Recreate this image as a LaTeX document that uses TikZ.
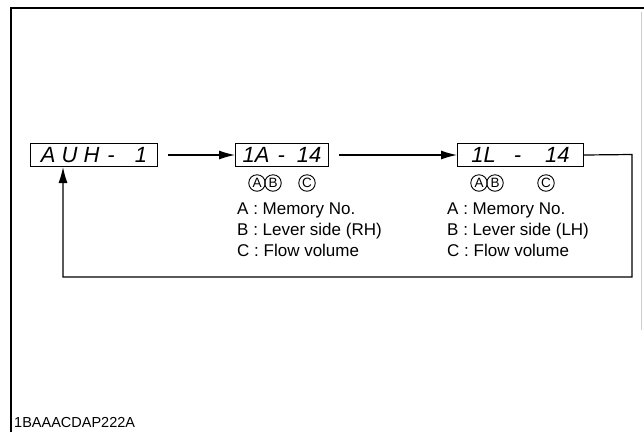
\documentclass[tikz,border=0pt]{standalone}
\usepackage{fontspec}
\setmainfont{Liberation Sans}
\usetikzlibrary{arrows.meta}
\tikzset{
  disp/.style={draw, line width=1pt, minimum height=23pt, inner sep=0pt, anchor=north west},
  seg/.style={font=\fontsize{22}{22}\selectfont\itshape, inner sep=0pt},
  conn/.style={line width=1.2pt},
  arr/.style={conn, -{Latex[length=16pt,width=9pt]}},
  lbl/.style={font=\fontsize{17}{21}\selectfont, align=left, anchor=north west, inner sep=0pt},
  circ/.style={draw, circle, line width=0.9pt, minimum size=16.5pt, inner sep=0pt, font=\fontsize{13.5}{13.5}\selectfont}
}
\begin{document}
\begin{tikzpicture}[x=1pt,y=-1pt]
\useasboundingbox (0,0) rectangle (644,432);
% frame
\draw[line width=1.5pt] (11,432) -- (11,8) -- (644,8);
\draw[line width=0.4pt, black!20] (641,12) -- (641,330);
% displays
\node[disp, minimum width=127pt] (b1) at (30,143) {};
\node[disp, minimum width=93pt] (b2) at (235,143) {};
\node[disp, minimum width=126pt] (b3) at (457,143) {};
\node[seg] (t1) at (b1.center) {A\hspace{6pt}U\hspace{6pt}H\hspace{8pt}-\hspace{20pt}1};
\node[seg] (t2) at (b2.center) {1A\hspace{8pt}-\hspace{12pt}14};
\node[seg] (t3) at (b3.center) {1L\hspace{18pt}-\hspace{24pt}14};
% connectors
\draw[arr] (b1.east) ++(10,0) coordinate (s1) -- (b2.west);
\draw[arr] (b2.east) ++(10,0) coordinate (s2) -- (b3.west);
\coordinate (c1) at (632,154.5);
\coordinate (c2) at (632,277);
\coordinate (c3) at (63,277);
\draw[arr] (b3.east) -- (c1) -- (c2) -- (c3) -- (c3 |- b1.south);
% circled letters
\node[circ] (a2) at (257,183) {A};
\node[circ] (bb2) at (273,183) {B};
\node[circ] (c2l) at (307,183) {C};
\node[circ] (a3) at (479,183) {A};
\node[circ] (bb3) at (495,183) {B};
\node[circ] (c3l) at (546,183) {C};
% legends
\node[lbl] (l2) at (237,203) {A : Memory No.\\B : Lever side (RH)\\C : Flow volume};
\node[lbl] (l3) at (447,203) {A : Memory No.\\B : Lever side (LH)\\C : Flow volume};
% figure code
\node[font=\fontsize{14.5}{14.5}\selectfont, anchor=south west, inner sep=0pt] (code) at (14,428) {1BAAACDAP222A};
\end{tikzpicture}
\end{document}
